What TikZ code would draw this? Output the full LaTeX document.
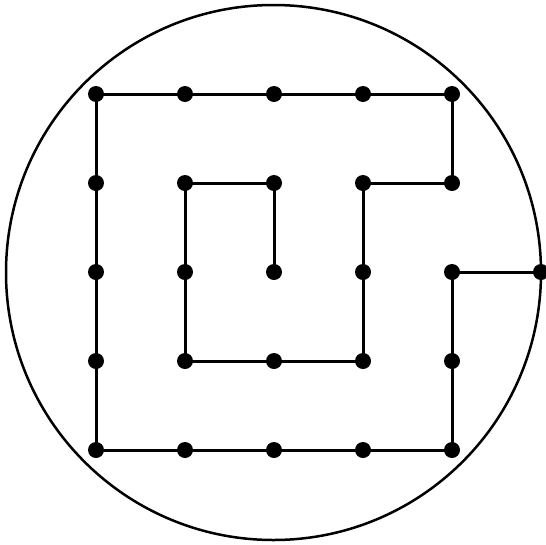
\documentclass[tikz,border=0pt]{standalone}
\begin{document}
\begin{tikzpicture}[x=1pt,y=-1pt,
  dot/.style={circle,fill=black,inner sep=0pt,minimum size=16pt},
  path/.style={line width=3pt}]
\useasboundingbox (0,0) rectangle (546,544);
\draw[line width=2.5pt] (273.5,272.5) circle (267.5);
\foreach \i in {0,...,4}{
  \foreach \j in {0,...,4}{
    \node[dot] (p\i\j) at ({96+89*\i},{94+89*\j}) {};
  }
}
\node[dot] (e) at (541,272) {};
\draw[path] (p22.center) -- (p21.center) -- (p11.center) -- (p13.center) -- (p33.center) -- (p31.center) -- (p41.center) -- (p40.center) -- (p00.center) -- (p04.center) -- (p44.center) -- (p42.center) -- (e.center);
\end{tikzpicture}
\end{document}
